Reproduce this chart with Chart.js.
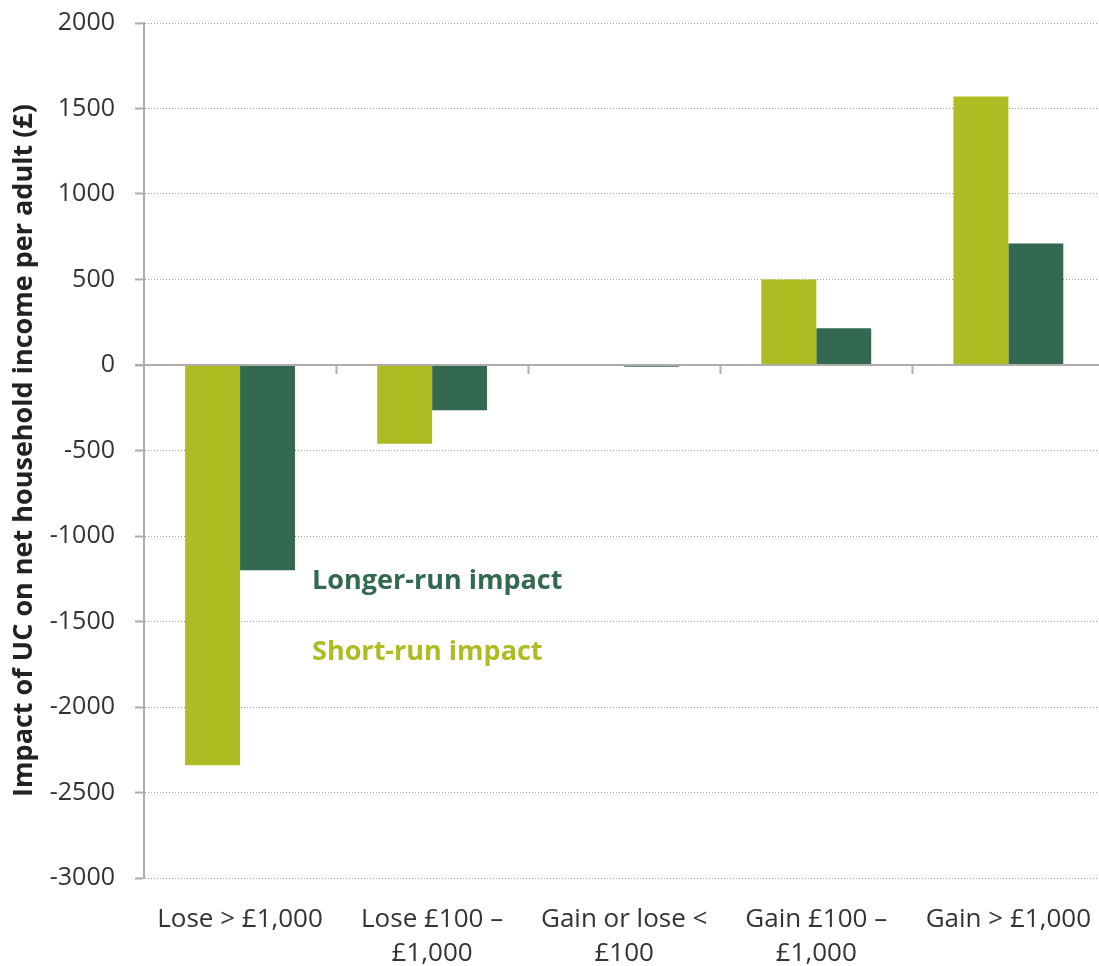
<!DOCTYPE html>
<html>
<head>
<meta charset="utf-8">
<script src="https://cdn.jsdelivr.net/npm/chart.js@4.4.1/dist/chart.umd.min.js"></script>
<style>
  html, body { margin: 0; padding: 0; background: #fff; overflow: hidden; }
  #wrap { width: 1108px; height: 966px; }
</style>
</head>
<body>
<div id="wrap"><canvas id="ucChart"></canvas></div>
<script>
const categories = [
    ['Lose > £1,000'],
    ['Lose £100 –', '£1,000'],
    ['Gain or lose <', '£100'],
    ['Gain £100 –', '£1,000'],
    ['Gain > £1,000']
];
const shortRun = [-2340, -460, -2, 500, 1570];
const longerRun = [-1200, -265, -10, 215, 710];
const yTicks = [2000, 1500, 1000, 500, 0, -500, -1000, -1500, -2000, -2500, -3000];

const SHORT_COLOR = '#aebc21';
const LONG_COLOR = '#336950';
const AXIS_GREY = '#adadad';
const FONT = "'Open Sans', 'Noto Sans', sans-serif";

// zero line, category ticks and the in-chart series labels
const zeroAxisPlugin = {
    id: 'zeroAxis',
    afterDatasetsDraw: (chart) => {
        const { ctx, chartArea, scales: { x, y } } = chart;
        const y0 = y.getPixelForValue(0);
        ctx.save();
        ctx.strokeStyle = AXIS_GREY;
        ctx.lineWidth = 2;
        ctx.beginPath();
        ctx.moveTo(chartArea.left - 9, y0);
        ctx.lineTo(chartArea.right, y0);
        ctx.stroke();
        for (let i = 1; i <= categories.length; i++) {
            const px = Math.round((x.getPixelForValue(i - 1) + x.getPixelForValue(i)) / 2) + 0.5;
            const edge = i === categories.length ? chartArea.right : px;
            ctx.beginPath();
            ctx.moveTo(edge, y0);
            ctx.lineTo(edge, y0 + 9);
            ctx.stroke();
        }
        ctx.font = `bold 27px ${FONT}`;
        ctx.textBaseline = 'middle';
        ctx.textAlign = 'left';
        const lx = x.getPixelForValue(0) + 72;
        ctx.fillStyle = LONG_COLOR;
        ctx.fillText('Longer-run impact', lx, y.getPixelForValue(-1265));
        ctx.fillStyle = SHORT_COLOR;
        ctx.fillText('Short-run impact', lx, y.getPixelForValue(-1680));
        ctx.restore();
    }
};

new Chart(document.getElementById('ucChart'), {
    type: 'bar',
    data: {
        labels: categories,
        datasets: [
            {
                label: 'Short-run impact',
                data: shortRun,
                backgroundColor: SHORT_COLOR,
                borderWidth: 0,
                categoryPercentage: 0.572,
                barPercentage: 1
            },
            {
                label: 'Longer-run impact',
                data: longerRun,
                backgroundColor: LONG_COLOR,
                borderWidth: 0,
                categoryPercentage: 0.572,
                barPercentage: 1
            }
        ]
    },
    options: {
        responsive: true,
        maintainAspectRatio: false,
        animation: false,
        layout: { padding: { top: 23, right: 0, bottom: 2, left: 8 } },
        plugins: {
            legend: { display: false },
            tooltip: { enabled: false }
        },
        scales: {
            x: {
                grid: { display: false },
                border: { display: false },
                afterFit: (axis) => { axis.height = 86; },
                ticks: {
                    color: '#333',
                    font: { family: FONT, size: 26, lineHeight: 1.3 },
                    padding: 17,
                    maxRotation: 0,
                    autoSkip: false
                }
            },
            y: {
                min: -3000,
                max: 2000,
                afterBuildTicks: (axis) => {
                    axis.ticks = yTicks.map((v) => ({ value: v }));
                },
                afterFit: (axis) => {
                    axis.width = 136;
                    axis.paddingTop = 0;
                },
                grid: {
                    color: (c) => (c.tick && c.tick.value === 0 ? 'rgba(0,0,0,0)' : '#9a9a9a'),
                    lineWidth: 1,
                    tickColor: AXIS_GREY,
                    tickLength: 9,
                    tickWidth: 2,
                    tickBorderDash: []
                },
                border: { display: true, color: AXIS_GREY, width: 2, dash: [1, 2] },
                ticks: {
                    color: '#333',
                    font: { family: FONT, size: 25 },
                    padding: 20,
                    callback: (value) => String(value)
                },
                title: {
                    display: true,
                    text: 'Impact of UC on net household income per adult (£)',
                    color: '#222',
                    font: { family: FONT, size: 27, weight: 'bold' },
                    padding: { top: 0, bottom: 0 }
                }
            }
        }
    },
    plugins: [zeroAxisPlugin]
});
</script>
</body>
</html>
